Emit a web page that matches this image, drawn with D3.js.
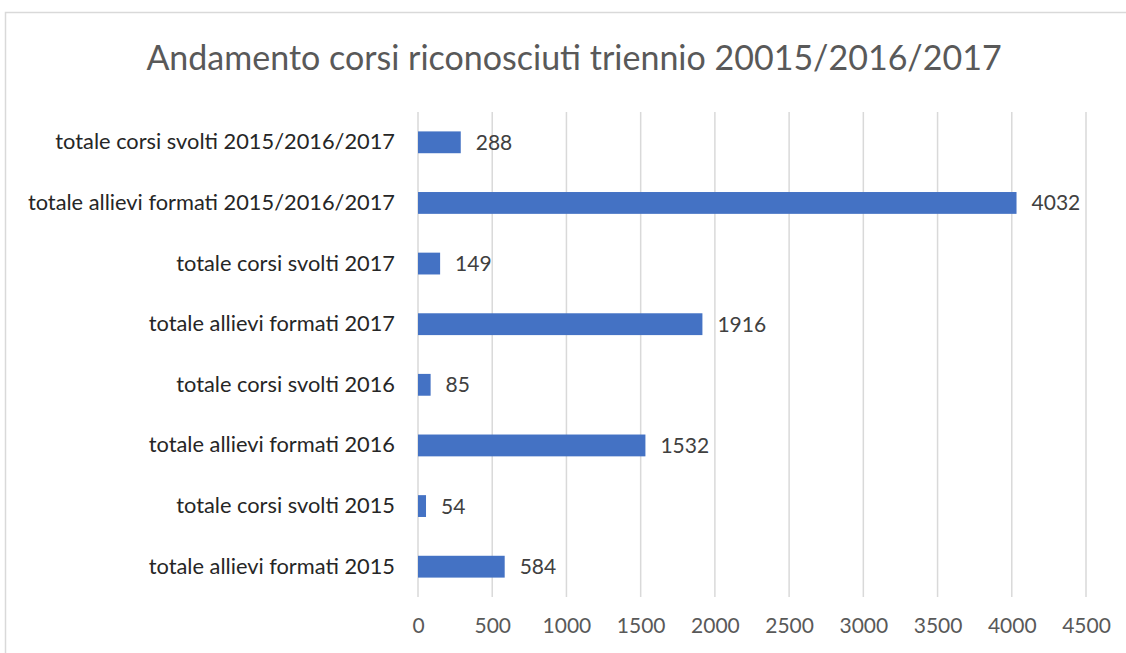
<!DOCTYPE html>
<html lang="it">
<head>
<meta charset="UTF-8">
<title>Andamento corsi</title>
<script src="https://d3js.org/d3.v7.min.js"></script>
<style>
  body { margin: 0; background: #fff; }
  svg text { font-family: Lato, "Open Sans", sans-serif; }
</style>
</head>
<body>
<script>
  // data, top to bottom
  const categories = [
    "totale corsi svolti 2015/2016/2017",
    "totale allievi formati 2015/2016/2017",
    "totale corsi svolti 2017",
    "totale allievi formati 2017",
    "totale corsi svolti 2016",
    "totale allievi formati 2016",
    "totale corsi svolti 2015",
    "totale allievi formati 2015"
  ];
  const values = [288, 4032, 149, 1916, 85, 1532, 54, 584];
  const ticks = [0, 500, 1000, 1500, 2000, 2500, 3000, 3500, 4000, 4500];

  const w = 1126, h = 653;
  const plotLeft = 418, plotRight = 1086, plotTop = 112, plotBottom = 597;

  const svg = d3.select("body").append("svg")
    .attr("width", w).attr("height", h);

  // chart frame (cropped on the right and bottom)
  svg.append("path")
    .attr("d", "M5.5," + h + "V12.5H" + w)
    .attr("fill", "none")
    .attr("stroke", "#d9d9d9")
    .attr("stroke-width", 1.5);

  svg.append("text")
    .attr("x", 574).attr("y", 70)
    .attr("text-anchor", "middle")
    .attr("font-size", 34)
    .attr("fill", "#595959")
    .text("Andamento corsi riconosciuti triennio 20015/2016/2017");

  const x = d3.scaleLinear().domain([0, 4500]).range([plotLeft, plotRight]);
  const y = d3.scaleBand().domain(categories).range([plotTop, plotBottom]).paddingInner(0.64).paddingOuter(0.32);

  // gridlines
  svg.append("g").selectAll("line")
    .data(ticks).enter().append("line")
    .attr("x1", d => x(d)).attr("x2", d => x(d))
    .attr("y1", plotTop).attr("y2", plotBottom)
    .attr("stroke", "#d9d9d9")
    .attr("stroke-width", 1.5);

  // x axis labels
  const xAxis = d3.axisBottom(x).tickValues(ticks).tickFormat(d3.format("d")).tickSize(0).tickPadding(0);
  const gx = svg.append("g")
    .attr("transform", "translate(0," + (plotBottom + 21) + ")")
    .call(xAxis);
  gx.select(".domain").remove();
  gx.selectAll("text")
    .attr("font-size", 21)
    .attr("fill", "#595959")
    .attr("font-family", "Lato, sans-serif");

  // category labels
  const yAxis = d3.axisLeft(y).tickSize(0).tickPadding(0);
  const gy = svg.append("g")
    .attr("transform", "translate(" + (plotLeft - 23) + ",0)")
    .call(yAxis);
  gy.select(".domain").remove();
  gy.selectAll("text")
    .attr("font-size", 21.8)
    .attr("fill", "#262626")
    .attr("font-family", "Lato, sans-serif");

  // bars
  svg.append("g").selectAll("rect")
    .data(values).enter().append("rect")
    .attr("x", x(0))
    .attr("y", (d, i) => y(categories[i]))
    .attr("width", d => x(d) - x(0))
    .attr("height", y.bandwidth())
    .attr("fill", "#4472c4");

  // value labels
  svg.append("g").selectAll("text")
    .data(values).enter().append("text")
    .attr("x", d => x(d) + 15)
    .attr("y", (d, i) => y(categories[i]) + y.bandwidth() / 2)
    .attr("dy", "0.36em")
    .attr("font-size", 21)
    .attr("fill", "#404040")
    .text(d => d);
</script>
</body>
</html>
